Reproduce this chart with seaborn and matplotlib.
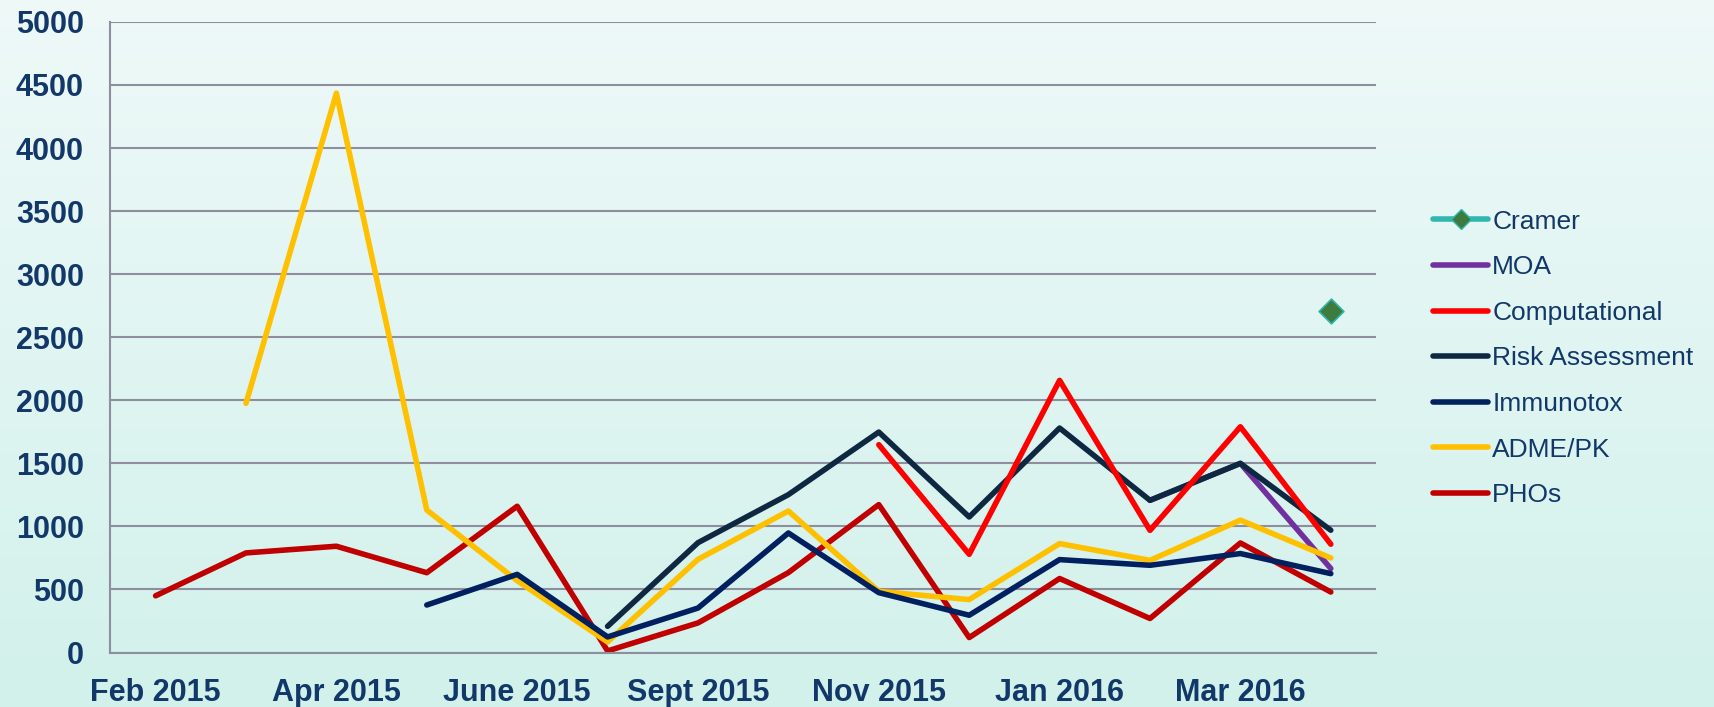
import numpy as np
import pandas as pd
import matplotlib
matplotlib.use("Agg")
import matplotlib.pyplot as plt
from matplotlib.lines import Line2D
import seaborn as sns

# category axis (Excel-style, label shown on every other month)
months = ["Feb 2015", "Mar 2015", "Apr 2015", "May 2015", "June 2015", "July 2015",
          "Sept 2015", "Oct 2015", "Nov 2015", "Dec 2015", "Jan 2016", "Feb 2016",
          "Mar 2016", "Apr 2016"]

# values (None = no value that month)
phos = [450, 790, 843, 633, 1160, 13, 235, 634, 1173, 119, 587, 270, 869, 480]
adme_pk = [None, 1976, 4435, 1130, 570, 84, 739, 1122, 485, 420, 864, 731, 1050, 750]
immunotox = [None, None, None, 377, 620, 124, 353, 948, 475, 296, 737, 692, 785, 626]
risk_assessment = [None, None, None, None, None, 208, 871, 1252, 1748, 1075, 1780, 1207, 1500, 970]
computational = [None] * 8 + [1648, 779, 2158, 969, 1790, 859]
moa = [None] * 11 + [1207, 1500, 666]
cramer = [None] * 13 + [2705]

legend_order = ["Cramer", "MOA", "Computational", "Risk Assessment", "Immunotox", "ADME/PK", "PHOs"]
draw_order = ["MOA", "PHOs", "ADME/PK", "Immunotox", "Risk Assessment", "Computational"]

colors = {
    "Cramer": "#2FB7B0",
    "MOA": "#7030A0",
    "Computational": "#FF0000",
    "Risk Assessment": "#0E2841",
    "Immunotox": "#002060",
    "ADME/PK": "#FFC000",
    "PHOs": "#C00000",
}
TEXT = "#12386A"
GRID = "#8E8E9E"
LW = 4.0

wide = pd.DataFrame({
    "idx": range(len(months)),
    "PHOs": phos, "ADME/PK": adme_pk, "Immunotox": immunotox,
    "Risk Assessment": risk_assessment, "Computational": computational,
    "MOA": moa, "Cramer": cramer,
})
long = wide.melt(id_vars="idx", var_name="series", value_name="value").dropna()

sns.set_theme(style="white")
plt.rcParams["font.family"] = ["Liberation Sans", "DejaVu Sans"]

fig = plt.figure(figsize=(17.14, 7.07), dpi=100)

# soft teal vertical gradient behind everything
bg = fig.add_axes([0, 0, 1, 1], zorder=-5)
grad = np.linspace(0, 1, 256).reshape(-1, 1)
bg.imshow(grad, aspect="auto", extent=[0, 1, 0, 1],
          cmap=matplotlib.colors.LinearSegmentedColormap.from_list("bg", ["#EEF9F8", "#D2F1EB"]))
bg.axis("off")

ax = fig.add_axes([0.0644, 0.077, 0.7384, 0.892])
ax.set_facecolor("none")

lines = long[long["series"] != "Cramer"]
sns.lineplot(ax=ax, data=lines, x="idx", y="value", hue="series", hue_order=draw_order,
             palette=colors, linewidth=LW, legend=False, estimator=None, sort=False,
             solid_capstyle="round", solid_joinstyle="round")
sns.scatterplot(ax=ax, data=long[long["series"] == "Cramer"], x="idx", y="value",
                marker="D", s=160, color="#3E7B3E", edgecolor="#2FB7B0", linewidth=1.2,
                legend=False, zorder=5)

# axes, grid, ticks
ax.set_xlim(-0.5, len(months) - 0.5)
ax.set_ylim(0, 5000)
ax.set_yticks(np.arange(0, 5001, 500))
ax.yaxis.grid(True, color=GRID, linewidth=1.5)
ax.set_axisbelow(True)
ax.set_xticks(range(0, len(months), 2))
ax.set_xticklabels(months[::2])
ax.set_xticks(np.arange(-0.5, len(months)), minor=True)
ax.set_xlabel("")
ax.set_ylabel("")
for side in ["top", "right"]:
    ax.spines[side].set_visible(False)
for side in ["left", "bottom"]:
    ax.spines[side].set_color(GRID)
    ax.spines[side].set_linewidth(1.5)
ax.tick_params(axis="y", length=7, width=1.5, color=GRID, pad=12,
               labelsize=22, labelcolor=TEXT)
ax.tick_params(axis="x", which="major", length=0, pad=18, labelsize=22, labelcolor=TEXT)
ax.tick_params(axis="x", which="minor", length=7, width=1.5, color=GRID, direction="out")
for lab in ax.get_xticklabels() + ax.get_yticklabels():
    lab.set_fontweight("bold")

# legend in Excel order
handles = []
for name in legend_order:
    if name == "Cramer":
        h = Line2D([], [], color=colors[name], linewidth=LW, marker="D", markersize=10,
                   markerfacecolor="#3E7B3E", markeredgecolor="#2FB7B0", solid_capstyle="round")
    else:
        h = Line2D([], [], color=colors[name], linewidth=LW, solid_capstyle="round")
    handles.append(h)
fig.legend(handles, legend_order, loc="center left", bbox_to_anchor=(0.836, 0.493),
           frameon=False, fontsize=19, labelcolor=TEXT, handlelength=2.1,
           handletextpad=0.15, labelspacing=0.82, borderpad=0, borderaxespad=0)

fig.savefig("out.png", dpi=100)
